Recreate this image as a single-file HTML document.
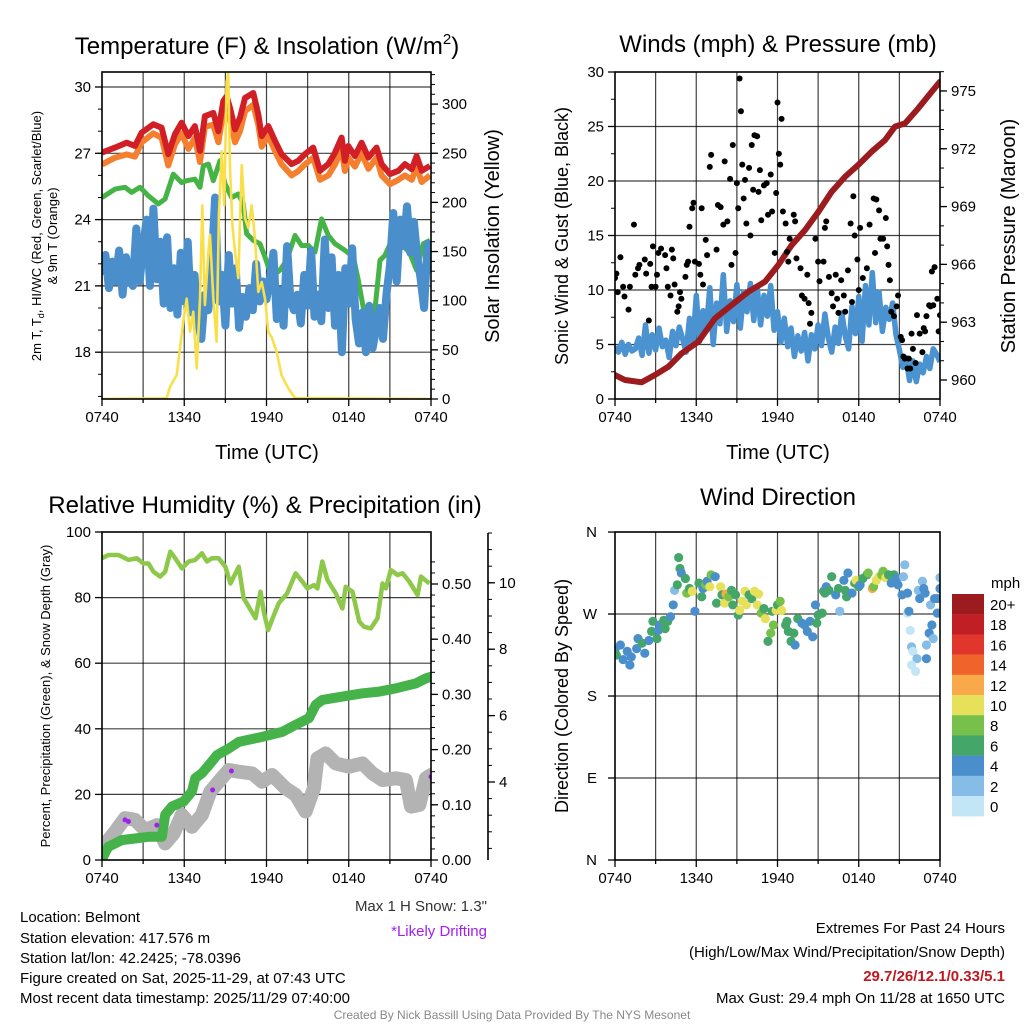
<!DOCTYPE html>
<html><head><meta charset="utf-8"><style>
html,body{margin:0;padding:0;background:#fff}
svg{display:block}
text{font-family:"Liberation Sans",Arial,sans-serif}
</style></head><body>
<svg id="chart" width="1024" height="1024" viewBox="0 0 1024 1024" xmlns="http://www.w3.org/2000/svg">
<defs>
<clipPath id="c1"><rect x="102" y="72" width="329" height="327"/></clipPath>
<clipPath id="c2"><rect x="615" y="72" width="325" height="327"/></clipPath>
<clipPath id="c3"><rect x="102" y="532" width="329" height="328"/></clipPath>
<clipPath id="c4"><rect x="615" y="532" width="325" height="328"/></clipPath>
</defs>
<g id="static" font-size="15" fill="#000">
<text x="267" y="54" font-size="24" text-anchor="middle">Temperature (F) &amp; Insolation (W/m<tspan font-size="15" dy="-10">2</tspan><tspan dy="10">)</tspan></text>
<text x="778" y="52" font-size="24" text-anchor="middle">Winds (mph) &amp; Pressure (mb)</text>
<text x="265" y="513" font-size="24" text-anchor="middle">Relative Humidity (%) &amp; Precipitation (in)</text>
<text x="778" y="505" font-size="24" text-anchor="middle">Wind Direction</text>
<text x="267" y="459" font-size="20" text-anchor="middle">Time (UTC)</text>
<text x="778" y="459" font-size="20" text-anchor="middle">Time (UTC)</text>
<text transform="translate(41,236) rotate(-90)" font-size="13" text-anchor="middle">2m T, T<tspan font-size="9" dy="3">d</tspan><tspan dy="-3">, HI/WC (Red, Green, Scarlet/Blue)</tspan></text>
<text transform="translate(57,236) rotate(-90)" font-size="13" text-anchor="middle">&amp; 9m T (Orange)</text>
<text transform="translate(499,236) rotate(-90)" font-size="20" text-anchor="middle">Solar Insolation (Yellow)</text>
<text transform="translate(568,236) rotate(-90)" font-size="18" text-anchor="middle">Sonic Wind &amp; Gust (Blue, Black)</text>
<text transform="translate(1015,236) rotate(-90)" font-size="20" text-anchor="middle">Station Pressure (Maroon)</text>
<text transform="translate(50,696) rotate(-90)" font-size="13" text-anchor="middle">Percent, Precipitation (Green), &amp; Snow Depth (Gray)</text>
<text transform="translate(568,696) rotate(-90)" font-size="18" text-anchor="middle">Direction (Colored By Speed)</text>
<text x="991" y="588" font-size="15">mph</text>
<text x="487" y="911" text-anchor="end" fill="#333">Max 1 H Snow: 1.3"</text>
<text x="487" y="936" text-anchor="end" fill="#a020f0">*Likely Drifting</text>
<g>
<text x="20" y="922">Location: Belmont</text>
<text x="20" y="943">Station elevation: 417.576 m</text>
<text x="20" y="963">Station lat/lon: 42.2425; -78.0396</text>
<text x="20" y="983">Figure created on Sat, 2025-11-29, at 07:43 UTC</text>
<text x="20" y="1003">Most recent data timestamp: 2025/11/29 07:40:00</text>
</g>
<g text-anchor="end">
<text x="1005" y="933">Extremes For Past 24 Hours</text>
<text x="1005" y="957">(High/Low/Max Wind/Precipitation/Snow Depth)</text>
<text x="1005" y="981" font-weight="bold" fill="#c0181f">29.7/26/12.1/0.33/5.1</text>
<text x="1005" y="1003">Max Gust: 29.4 mph On 11/28 at 1650 UTC</text>
</g>
<text x="512" y="1019" font-size="12" text-anchor="middle" fill="#888">Created By Nick Bassill Using Data Provided By The NYS Mesonet</text>
</g>
</svg>
<script>
// ---------- DATA ----------
const xLabels = ["0740","1340","1940","0140","0740"];
const redT = [0,0.95,1.8,2.41,2.89,3.74,4.35,4.84,5.32,5.81,6.3,6.78,7.15,7.51,8.12,8.49,8.85,9.09,9.34,9.7,10.07,10.43,11.04,11.4,11.65,12.13,12.62,13.1,13.83,14.32,14.8,15.41,15.9,16.51,17.0,17.48,17.72,17.97,18.45,18.94,19.43,20.03,20.4,21.01,21.62,22.1,22.6,22.95,23.32,23.93];
const redV = [27.03,27.26,27.48,27.33,27.93,28.31,28.16,26.96,27.86,28.38,27.78,28.23,27.11,28.68,28.83,28.0,29.36,29.58,29.06,28.08,28.61,29.5,29.73,28.76,27.78,28.23,27.56,26.96,26.51,26.66,26.96,27.26,26.21,26.51,27.03,27.71,26.66,27.33,26.88,27.48,26.81,27.26,26.51,26.06,26.21,26.51,26.28,26.88,26.21,26.43];
const orangeV = [26.5,26.8,26.95,26.85,27.5,27.9,27.7,26.45,27.4,27.9,27.2,27.7,26.6,28.2,28.3,27.5,28.9,29.1,28.5,27.5,28.0,28.9,29.2,28.3,27.3,27.8,27.1,26.5,26.0,26.2,26.5,26.8,25.8,26.0,26.5,27.2,26.2,26.8,26.4,27.0,26.3,26.8,26.0,25.6,25.8,26.0,25.8,26.4,25.7,26.0];
const greenT = [0,0.95,1.68,2.16,2.77,3.38,4.11,4.6,5.2,5.81,6.18,6.78,7.15,7.39,7.76,8.12,8.61,8.97,9.46,9.94,10.31,10.55,11.04,11.52,11.89,12.38,12.98,13.47,14.08,14.56,15.05,15.54,16.02,16.51,17.0,17.72,18.33,18.7,19.18,19.43,19.91,20.28,20.64,21.13,21.86,22.47,22.95,23.44,23.93];
const greenV = [25.0,25.38,25.46,25.23,25.46,25.08,24.71,24.93,26.06,25.68,25.76,25.83,25.46,26.43,26.51,25.76,26.66,25.61,25.0,25.16,24.71,23.36,23.06,22.91,22.31,21.41,21.71,22.16,23.28,22.83,22.83,22.53,24.03,23.28,22.91,22.61,22.31,21.26,19.61,18.86,19.91,22.16,22.38,23.06,22.91,22.46,21.71,22.91,23.06];
const wcV = [21.5,22.4,20.9,22.1,21.2,22.6,20.6,22.3,21.3,21.0,23.6,21.2,22.8,
24.0,21.0,24.5,21.3,23.0,20.2,23.2,20.0,21.8,19.7,22.5,20.3,
23.0,19.8,21.5,19.4,18.6,20.6,19.9,22.0,25.0,20.3,21.5,19.2,
22.4,20.2,21.8,19.1,20.5,19.6,20.9,19.9,22.0,20.3,21.2,20.4,
21.3,22.5,19.5,20.8,19.2,22.8,20.3,19.9,20.6,19.3,21.5,20.1,
22.6,19.6,20.6,19.4,23.1,20.0,22.3,19.2,21.5,18.0,21.8,20.2,
22.7,19.5,18.4,19.8,18.0,20.1,18.2,19.1,20.0,18.6,20.6,21.9,
24.3,21.2,24.0,22.8,24.6,22.5,23.9,22.3,21.3,20.0,22.9,21.6];
const solarT = [0,4.72,4.96,5.45,5.69,5.93,6.18,6.42,6.66,6.91,7.15,7.32,7.51,7.76,7.88,8.12,8.36,8.53,8.73,8.92,9.09,9.21,9.34,9.51,9.7,9.94,10.19,10.43,10.67,10.92,11.16,11.4,11.65,11.89,12.13,12.38,12.74,13.1,13.59,14.08,24];
const solarV = [0,0.7,12.5,24.4,51.5,78.6,102,68.5,88.8,31.2,102,197,95.6,150,167,102,58.3,187,252,197,323,331,235,177,150,123,238,184,174,197,163,109,119,102,68,63,48,24,11,1,0];
const windV = [4.8,4.3,5.2,4.1,5.0,4.4,4.6,5.6,4.0,6.8,4.2,5.9,4.5,
6.5,4.8,5.4,3.8,6.2,4.9,6.6,5.5,4.3,7.4,5.0,9.5,
5.3,8.1,6.4,10.2,5.0,8.8,6.9,11.4,6.2,9.0,7.1,10.5,
6.5,9.8,8.0,10.6,7.2,10.3,6.8,9.5,7.6,10.4,6.3,8.0,
5.2,7.4,4.8,6.5,3.9,5.8,4.4,6.1,3.5,5.9,4.6,6.8,
4.9,7.8,5.6,4.3,6.6,5.1,7.9,5.8,4.6,8.5,6.0,9.4,
5.3,10.4,6.8,11.6,7.0,9.8,6.2,8.4,7.3,8.8,5.9,4.5,
2.9,3.8,1.7,3.5,1.6,3.2,2.4,3.9,2.8,4.6,4.1,3.4];
const gustT = [0,0.1,0.2,0.4,0.6,0.7,1.0,1.1,1.4,1.5,1.7,1.8,2.2,2.3,2.5,2.6,2.7,2.8,3.0,3.1,3.2,3.4,3.7,3.8,3.9,4.1,4.2,4.3,4.4,4.6,4.7,4.8,4.9,5.2,5.3,5.4,5.5,5.7,5.8,5.9,6.2,6.3,6.4,6.5,6.7,6.8,7.0,7.1,7.5,7.6,7.8,8.0,8.1,8.3,8.5,8.6,8.7,8.9,9.0,9.1,9.2,9.3,9.4,9.5,9.6,9.7,9.9,10.0,10.1,10.2,10.3,10.5,10.6,10.7,10.8,11.0,11.2,11.3,11.5,11.6,11.8,11.9,12.0,12.1,12.2,12.3,12.4,12.6,12.7,12.8,12.9,13.2,13.3,13.4,13.7,13.8,14.0,14.2,14.3,14.4,14.5,14.8,15.0,15.1,15.4,15.5,15.6,15.8,16.0,16.1,16.3,16.4,16.5,16.7,16.9,17.0,17.2,17.4,17.5,17.6,17.7,17.9,18.0,18.1,18.3,18.6,18.8,19.1,19.2,19.3,19.5,19.6,19.8,20.0,20.1,20.2,20.3,20.4,20.6,20.8,20.9,21.1,21.2,21.3,21.4,21.6,21.7,21.8,21.9,22.0,22.2,22.3,22.5,22.7,22.8,22.9,23.0,23.2,23.3,23.4,23.5,23.6,23.8,23.9,24.0];
const gustV = [11.1,11.5,9.8,13.0,10.3,9.4,8.2,10.3,16.0,11.4,12.0,12.3,12.8,11.5,7.2,12.4,10.3,14.0,10.3,11.4,13.4,13.8,13.2,12.0,10.3,9.5,13.7,12.9,10.5,8.0,8.5,9.8,9.2,11.2,12.3,12.6,15.8,17.5,18.0,12.6,12.4,11.4,17.5,10.5,14.6,13.2,21.3,22.4,13.7,17.8,17.6,16.0,21.8,16.3,20.2,12.3,23.3,13.4,19.8,17.5,29.4,26.4,21.5,18.4,20.1,16.1,21.2,15.0,23.3,19.2,24.2,24.1,19.0,21.0,16.4,19.6,19.8,16.9,20.6,17.2,13.4,18.9,27.2,22.5,21.5,25.7,17.2,16.1,13.5,12.6,14.7,16.9,16.3,12.9,12.0,9.5,9.2,11.4,8.8,6.9,7.9,14.7,12.6,10.8,12.6,15.7,16.3,11.2,9.7,8.5,11.4,9.2,7.9,10.9,9.5,8.0,11.8,16.1,8.9,18.6,15.0,12.8,10.0,15.7,11.1,12.0,16.0,18.4,13.4,18.3,17.3,14.7,14.7,16.6,14.0,12.3,10.9,8.0,7.6,8.5,9.5,5.7,5.4,3.9,3.7,2.8,3.7,2.8,6.0,4.6,3.3,7.7,6.0,4.3,6.5,6.2,7.6,8.6,8.5,11.7,8.6,12.1,9.2,6.2,7.7];
const presT = [0,0.74,1.97,2.95,3.94,4.92,6.15,7.39,8.62,9.85,11.08,12.06,13.05,14.03,15.02,16.0,16.99,17.97,18.95,19.94,20.68,21.42,22.4,23.39,24];
const presV = [960.26,960.0,959.88,960.26,960.69,961.38,961.99,963.2,963.89,964.58,965.1,965.97,967.0,967.78,968.73,969.77,970.55,971.16,971.85,972.45,973.15,973.32,974.1,974.96,975.48];
const rhT = [0,0.46,1.2,1.93,2.54,3.02,3.39,3.76,4.24,4.61,4.98,5.34,5.83,6.32,6.8,7.29,7.66,8.02,8.51,9.0,9.37,9.98,10.34,10.71,11.2,11.56,11.8,12.12,12.54,12.9,13.51,14.12,14.61,14.98,15.46,15.71,16.07,16.44,17.05,17.54,17.78,18.27,18.76,19.12,19.61,20.1,20.46,20.71,21.07,21.56,21.93,22.41,23.02,23.27,23.88];
const rhV = [92.0,93.0,93.0,91.5,92.0,90.4,90.4,87.9,86.4,87.9,94.0,92.0,88.9,91.0,91.5,93.5,91.0,92.0,92.0,89.4,84.3,89.4,79.8,77.2,73.7,81.8,75.7,70.1,74.7,78.3,81.3,87.4,84.9,82.8,83.8,82.8,91.0,85.4,81.3,76.7,83.3,81.8,72.7,71.1,70.6,73.7,84.3,82.8,88.4,86.9,87.4,84.9,80.8,86.4,84.3];
const prT = [0,0.46,1.44,2.41,3.39,4.37,4.61,5.1,5.95,6.56,6.8,7.29,7.9,8.39,9.24,9.98,11.68,13.15,14.12,15.1,15.59,16.07,17.54,19.0,20.22,21.44,22.9,23.63,24];
const prV = [0.003,0.024,0.036,0.039,0.042,0.042,0.082,0.097,0.106,0.124,0.148,0.157,0.175,0.190,0.202,0.214,0.223,0.232,0.245,0.257,0.281,0.290,0.296,0.302,0.305,0.311,0.320,0.329,0.332];
const snT = [0,0.46,0.95,1.68,2.41,3.15,4.0,4.61,5.22,5.83,6.56,7.29,7.9,8.51,9.24,9.98,10.95,11.68,12.41,13.39,14.12,14.85,15.46,15.71,16.32,17.05,18.02,19.0,19.73,20.46,21.44,22.17,22.54,23.15,23.63,24];
const snV = [1.80,2.25,2.50,2.91,2.86,2.55,2.70,2.15,2.45,3.01,2.65,3.01,3.71,4.01,4.36,4.31,4.26,4.01,4.21,3.81,3.61,3.11,3.81,4.71,4.86,4.56,4.46,4.56,4.26,4.06,4.11,4.06,3.26,3.31,4.11,4.21];
const driftT = [1.68,1.93,4.0,8.07,9.44,24];
const driftV = [2.86,2.81,2.70,3.76,4.33,4.16];
const dirT = [0,0.1,0.4,0.6,0.9,1.1,1.2,1.6,1.7,2.0,2.2,2.5,2.7,2.8,3.1,3.2,3.3,3.6,3.7,3.9,4.1,4.3,4.4,4.6,4.7,4.8,4.9,5.2,5.3,5.5,5.7,5.9,6.2,6.4,6.5,6.7,6.8,7.0,7.1,7.4,7.5,7.8,7.9,8.1,8.2,8.4,8.6,8.7,8.9,9.1,9.2,9.4,9.6,9.7,9.9,10.1,10.3,10.5,10.6,10.8,11.0,11.1,11.3,11.5,11.6,11.7,11.9,12.0,12.2,12.3,12.6,12.7,12.8,13.0,13.2,13.3,13.5,13.8,14.0,14.2,14.4,14.6,14.8,14.9,15.0,15.3,15.4,15.5,15.6,15.8,16.0,16.3,16.5,16.6,16.9,17.0,17.1,17.2,17.5,17.7,17.8,18.0,18.1,18.3,18.6,18.7,19.0,19.1,19.3,19.5,19.7,19.8,20.0,20.2,20.4,20.6,20.8,20.9,21.2,21.3,21.4,21.6,21.6,21.8,21.9,22.0,22.2,22.3,22.4,22.5,22.7,22.8,22.9,23.0,23.0,23.2,23.3,23.4,23.5,23.6,23.8,23.8,24.0,24.0,21.7,21.9];
const dirV = [231,225,236,220,229,214,223,232,243,238,227,241,251,262,243,252,258,263,254,262,267,280,296,302,332,320,315,309,293,298,295,273,304,289,298,302,306,300,313,311,282,300,291,282,292,289,296,280,291,269,274,284,295,280,291,287,295,280,292,271,276,265,240,249,273,258,274,280,284,274,258,262,251,240,249,236,265,260,258,251,262,245,280,260,269,271,295,293,300,296,311,291,298,273,307,296,289,315,293,304,307,300,302,309,313,315,298,300,307,311,313,317,310,313,304,313,309,302,291,311,324,293,271,252,234,229,207,221,296,287,306,298,293,236,221,249,280,258,243,287,271,287,310,298,273,214,207];
const dirS = [5,7,5,5,5,5,5,5,5,7,5,5,7,7,7,5,5,7,7,7,5,5,3,7,7,7,5,7,9,7,11,5,7,7,5,9,5,11,9,5,7,11,7,11,13,9,7,7,7,7,11,11,11,11,7,7,11,11,11,9,7,11,7,9,7,9,11,7,9,11,7,7,7,7,7,5,7,5,5,5,5,5,5,7,7,7,7,7,5,7,7,5,7,3,5,7,7,5,5,7,11,7,5,7,7,9,13,9,11,11,9,9,11,7,5,7,5,5,5,3,3,5,1,1,3,1,1,3,3,5,3,5,5,3,5,5,3,5,3,5,5,5,3,5,5,1];
const cbLabels = ["20+","18","16","14","12","10","8","6","4","2","0"];
const cbColors = ["#9b1b1e","#c01f26","#e0362b","#f0632a","#f9a94a","#e7e05a","#77c04b","#45a66a","#4a8fcb","#86bde6","#c3e6f7"];
const tempTicks = [18,21,24,27,30];
const solarTicks = [0,50,100,150,200,250,300];
const windTicks = [0,5,10,15,20,25,30];
const presTicks = [960,963,966,969,972,975];
const rhTicks = [0,20,40,60,80,100];
const prTicks = [0,0.1,0.2,0.3,0.4,0.5];
const snTicks = [4,6,8,10];
const dirTicks = [0,90,180,270,360];
const dirNames = ["N","E","S","W","N"];

// ---------- SCALES ----------
const x1 = h => 102 + h*329/24;
const x2 = h => 615 + h*325/24;
const yT = v => 87 + (30-v)*22.1;
const yS = w => 399 - w*0.983;
const yW = v => 399 - v*10.9;
const yP = p => 380 - (p-960)*19.27;
const yRH = v => 860 - v*3.28;
const yPr = p => 860 - p*552;
const ySn = s => 782 - (s-4)*33.2;
const yD = d => 860 - d*0.911;

const NS = "http://www.w3.org/2000/svg";
const svg = document.getElementById('chart');
function add(parent, tag, attrs){ const e=document.createElementNS(NS,tag); for(const k in attrs) e.setAttribute(k,attrs[k]); parent.appendChild(e); return e; }
function grp(clip){ const g=add(svg,'g',clip?{'clip-path':'url(#'+clip+')'}:{}); return g; }
function pathD(ts,vs,fx,fy){ return ts.map((t,i)=>(i?'L':'M')+fx(t).toFixed(1)+','+fy(vs[i]).toFixed(1)).join(''); }
function txt(parent,x,y,s,anchor){ const e=add(parent,'text',{x:x,y:y,'text-anchor':anchor||'middle','font-size':15}); e.textContent=s; return e; }

function panelFrame(L,T,R,B,hTicks,fy,clip,name){
  const g=grp(null);
  
  
  for(let k=1;k<8;k++){ const X=L+(R-L)*k/8;
    const e=add(g,'line',{x1:X,x2:X,y1:T,y2:B,stroke:'#000','stroke-width':1.2,'stroke-opacity':0.75});
    
    
  }
  hTicks.forEach(v=>{ const Y=fy(v); if(Y>T+1&&Y<B-1){
    const e=add(g,'line',{x1:L,x2:R,y1:Y,y2:Y,stroke:'#000','stroke-width':1.2,'stroke-opacity':0.75});
    
    
  }});
  const xa=grp(null);
  
  
  for(let k=0;k<=8;k++){ const X=L+(R-L)*k/8;
    const t=add(xa,'line',{x1:X,x2:X,y1:B,y2:B+(k%2?4:7),stroke:'#000','stroke-width':1.3});
    
    
  }
  xLabels.forEach((s,i)=>{ const e=txt(xa,L+(R-L)*i/4,B+23,s);
    
    
  });
}
function frame(L,T,R,B,name){
  const e=add(svg,'rect',{x:L,y:T,width:R-L,height:B-T,fill:'none',stroke:'#000','stroke-width':1.6});
  
  
}
function yAxis(X,dir,ticks,fy,fmt,minorStep,lo,hi,name){
  const g=grp(null);
  
  
  if(minorStep){ for(let v=lo; v<=hi+1e-9; v+=minorStep){ const Y=fy(v);
    const m=add(g,'line',{x1:X,x2:X+dir*4,y1:Y,y2:Y,stroke:'#000','stroke-width':1});
    
    
  }}
  ticks.forEach(v=>{ const Y=fy(v);
    const t=add(g,'line',{x1:X,x2:X+dir*7,y1:Y,y2:Y,stroke:'#000','stroke-width':1.3});
    
    
    const l=txt(g,X+dir*11,Y+5,fmt(v),dir<0?'end':'start');
    
    
  });
}

// ---------- PANEL 1 ----------
panelFrame(102,72,431,399,tempTicks,yT,'c1','temp');
{
  const g=grp('c1');
  
  
  let e=add(g,'path',{d:pathD(greenT,greenV,x1,yT),fill:'none',stroke:'#45b345','stroke-width':5,'stroke-linejoin':'round'});
  
  
  const wcT=wcV.map((v,i)=>i*0.25);
  e=add(g,'path',{d:pathD(wcT,wcV,x1,yT),fill:'none',stroke:'#4a8fcb','stroke-width':8,'stroke-linejoin':'round'});
  
  
  e=add(g,'path',{d:pathD(redT,orangeV,x1,yT),fill:'none',stroke:'#f47f2e','stroke-width':6,'stroke-linejoin':'round'});
  
  
  e=add(g,'path',{d:pathD(redT,redV,x1,yT),fill:'none',stroke:'#d21f26','stroke-width':6,'stroke-linejoin':'round'});
  
  
  e=add(g,'path',{d:pathD(solarT,solarV,x1,yS),fill:'none',stroke:'#f9e04a','stroke-width':2.6,'stroke-linejoin':'round'});
  
  
}
frame(102,72,431,399,'temp');
yAxis(102,-1,tempTicks,yT,v=>String(v),1,16,30,'temp-left-axis');
yAxis(431,1,solarTicks,yS,v=>String(v),10,0,330,'solar-right-axis');

// ---------- PANEL 2 ----------
panelFrame(615,72,940,399,windTicks,yW,'c2','wind');
{
  const g=grp('c2');
  
  
  const wT=windV.map((v,i)=>i*0.25);
  let e=add(g,'path',{d:pathD(wT,windV,x2,yW),fill:'none',stroke:'#4a92d0','stroke-width':5.5,'stroke-linejoin':'round'});
  
  
  e=add(g,'path',{d:pathD(presT,presV,x2,yP),fill:'none',stroke:'#9b1b1e','stroke-width':6,'stroke-linejoin':'round','stroke-linecap':'round'});
  
  
  gustT.forEach((t,i)=>{
    const c=add(g,'circle',{cx:x2(t),cy:yW(gustV[i]),r:3,fill:'#000'});
    
    
  });
}
frame(615,72,940,399,'wind');
yAxis(615,-1,windTicks,yW,v=>String(v),2.5,0,30,'wind-left-axis');
yAxis(940,1,presTicks,yP,v=>String(v),1,960,976,'pressure-right-axis');

// ---------- PANEL 3 ----------
panelFrame(102,532,431,860,[20,40,60,80],yRH,'c3','rh');
{
  const g=grp('c3');
  
  
  let e=add(g,'path',{d:pathD(snT,snV,x1,ySn),fill:'none',stroke:'#b3b3b3','stroke-width':14,'stroke-linejoin':'round','stroke-linecap':'round'});
  
  
  e=add(g,'path',{d:pathD(prT,prV,x1,yPr),fill:'none',stroke:'#45b34a','stroke-width':10,'stroke-linejoin':'round','stroke-linecap':'round'});
  
  
  e=add(g,'path',{d:pathD(rhT,rhV,x1,yRH),fill:'none',stroke:'#8dc84b','stroke-width':4.5,'stroke-linejoin':'round'});
  
  
  driftT.forEach((t,i)=>{
    const c=add(g,'circle',{cx:x1(t),cy:ySn(driftV[i]),r:2.5,fill:'#a020f0'});
    
    
  });
}
frame(102,532,431,860,'rh');
yAxis(102,-1,rhTicks,yRH,v=>String(v),null,0,0,'rh-left-axis');
yAxis(431,1,prTicks,yPr,v=>v.toFixed(2),0.02,0,0.54,'precip-right-axis');
{
  const e=add(svg,'line',{x1:488,x2:488,y1:533,y2:860,stroke:'#000','stroke-width':1.6});
  
  
}
yAxis(488,1,snTicks,ySn,v=>String(v),0.5,2,11.5,'snow-depth-axis');

// ---------- PANEL 4 ----------
panelFrame(615,532,940,860,dirTicks,yD,'c4','direction');
{
  const g=grp('c4');
  
  
  const colorFor = s => cbColors[10-Math.min(10,Math.floor(s/2))];
  dirT.forEach((t,i)=>{
    const c=add(g,'circle',{cx:x2(t),cy:yD(dirV[i]),r:4.6,fill:colorFor(dirS[i])});
    
    
  });
}
frame(615,532,940,860,'direction');
{
  const g=grp(null);
  
  
  dirTicks.forEach((d,i)=>{
    const t=add(g,'line',{x1:615,x2:608,y1:yD(d),y2:yD(d),stroke:'#000','stroke-width':1.3});
    
    
    const l=txt(g,597,yD(d)+5,dirNames[i],'end');
    
    
  });
}
{
  const g=grp(null);
  
  
  cbColors.forEach((c,i)=>{
    const r=add(g,'rect',{x:952,y:594+i*20.2,width:32,height:20.4,fill:c});
    
    
    const l=txt(g,990,594+i*20.2+16,cbLabels[i],'start');
    
    
  });
}
</script>
</body></html>
